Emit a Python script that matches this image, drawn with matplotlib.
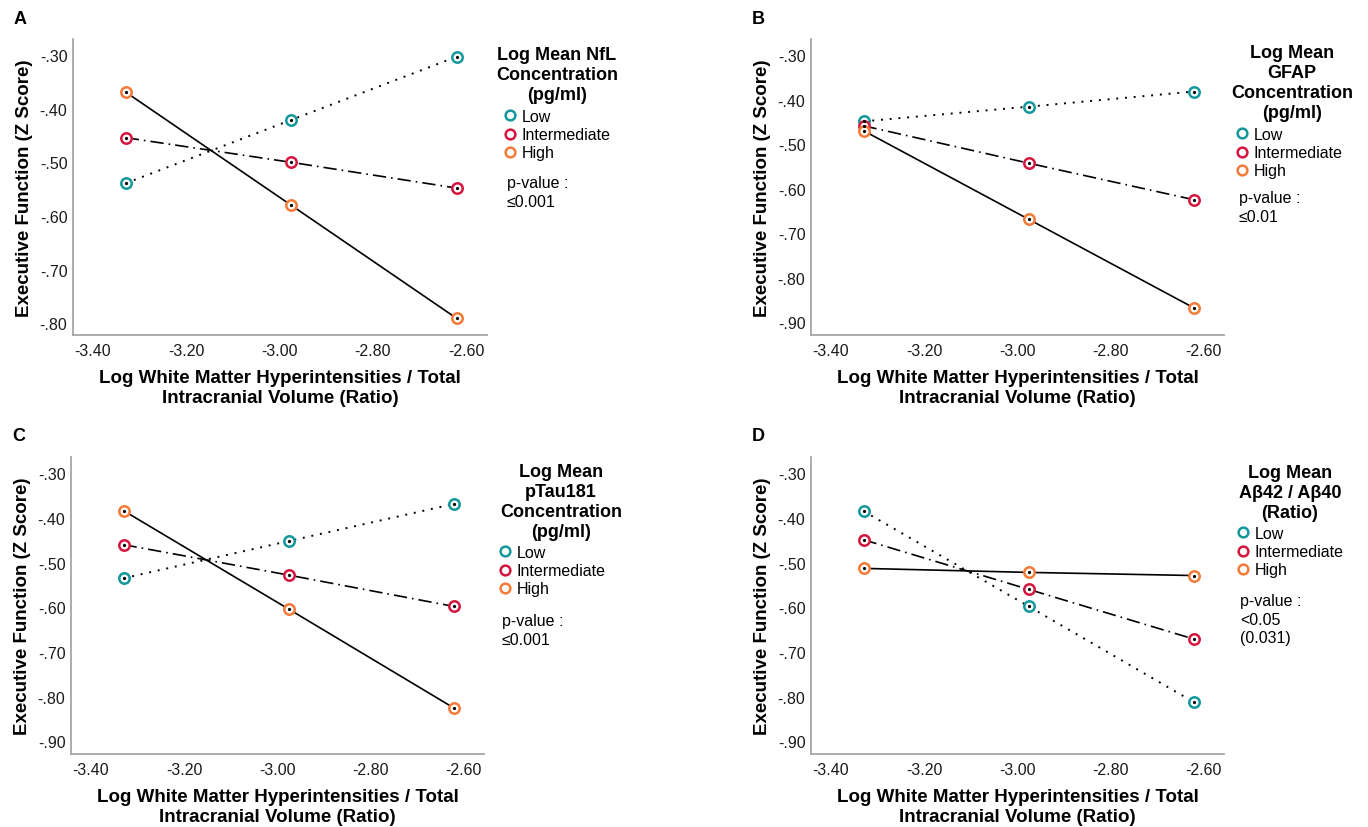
import matplotlib
matplotlib.use("Agg")
import matplotlib.pyplot as plt
from matplotlib.lines import Line2D

plt.rcParams['font.family'] = ['Liberation Sans', 'DejaVu Sans']

W, H = 1368, 828

# x positions of the three WMH groups (same in all panels)
wmh_x = [-3.33, -2.975, -2.62]
groups = ["Low", "Intermediate", "High"]

# executive function z scores
nfl_low = [-0.539, -0.421, -0.303]
nfl_mid = [-0.454, -0.500, -0.548]
nfl_high = [-0.369, -0.580, -0.791]

gfap_low = [-0.449, -0.416, -0.382]
gfap_mid = [-0.459, -0.543, -0.625]
gfap_high = [-0.470, -0.669, -0.868]

ptau_low = [-0.535, -0.452, -0.369]
ptau_mid = [-0.460, -0.528, -0.598]
ptau_high = [-0.384, -0.604, -0.825]

abeta_low = [-0.385, -0.598, -0.812]
abeta_mid = [-0.449, -0.560, -0.671]
abeta_high = [-0.513, -0.522, -0.529]

x_ticks = [-3.40, -3.20, -3.00, -2.80, -2.60]
x_ticklabels = ["-3.40", "-3.20", "-3.00", "-2.80", "-2.60"]
y_ticks_a = [-0.30, -0.40, -0.50, -0.60, -0.70, -0.80]
y_ticks = [-0.30, -0.40, -0.50, -0.60, -0.70, -0.80, -0.90]

colors = ['#13989b', '#d4163e', '#f47a38']
styles = [(0, (1, 3.5)), (0, (8, 3, 1, 3)), '-']
widths = [1.4, 1.2, 1.2]


def fx(px):
    return px / W


def fy(py):
    return 1 - py / H


fig = plt.figure(figsize=(W / 100, H / 100), dpi=100)


def make_panel(box, letter, series, ylim, yticks, leg_title, title_y, leg_x,
               title_cx, leg_y, pval, pval_y):
    left, top, right, bottom = box
    ax = fig.add_axes([fx(left), fy(bottom), (right - left) / W, (bottom - top) / H])
    for vals, c, ls, lw in zip(series, colors, styles, widths):
        ax.plot(wmh_x, vals, color='black', lw=lw, linestyle=ls, zorder=2)
        ax.plot(wmh_x, vals, linestyle='none', marker='o', ms=7.5, mew=1.8,
                mec=c, mfc='white', zorder=3)
        ax.plot(wmh_x, vals, linestyle='none', marker='o', ms=1.3,
                color='black', zorder=4)
    ax.set_xlim(-3.443, -2.555)
    ax.set_ylim(*ylim)
    ax.set_xticks(x_ticks)
    ax.set_xticklabels(x_ticklabels)
    ax.set_yticks(yticks)
    ax.set_yticklabels([("%.2f" % v).replace("0.", ".") for v in yticks])
    ax.tick_params(length=0, labelsize=11.5, labelcolor='#1a1a1a')
    ax.tick_params(axis='y', pad=4)
    ax.tick_params(axis='x', pad=6)
    for s in ['top', 'right']:
        ax.spines[s].set_visible(False)
    for s in ['left', 'bottom']:
        ax.spines[s].set_color('#a6a6a6')
        ax.spines[s].set_linewidth(1.3)
    ax.set_xlabel("Log White Matter Hyperintensities / Total\nIntracranial Volume (Ratio)",
                  fontsize=13.5, fontweight='bold', labelpad=8, linespacing=1.2)
    ax.set_ylabel("Executive Function (Z Score)", fontsize=13.5, fontweight='bold',
                  labelpad=5)
    fig.text(fx(left - 59), fy(top - 21), letter, fontsize=13, fontweight='bold',
             va='center', ha='left')

    fig.text(fx(title_cx), fy(title_y), leg_title, fontsize=13, fontweight='bold',
             ha='center', va='top', linespacing=1.22)
    handles = [Line2D([], [], linestyle='none', marker='o', ms=7, mew=1.8,
                      mec=c, mfc='white') for c in colors]
    ax.legend(handles, groups, loc='upper left',
              bbox_to_anchor=(fx(leg_x), fy(leg_y)), bbox_transform=fig.transFigure,
              frameon=False, borderpad=0, borderaxespad=0, handlelength=0.6,
              handletextpad=0.45, labelspacing=0.2, fontsize=11.5)
    fig.text(fx(leg_x + 2), fy(pval_y), pval, fontsize=11.5, ha='left', va='top',
             linespacing=1.3)
    return ax


make_panel((73, 40, 487, 336), "A", [nfl_low, nfl_mid, nfl_high], (-0.822, -0.270),
           y_ticks_a, "Log Mean NfL\nConcentration\n(pg/ml)", 47, 505, 557, 110,
           "p-value :\n≤0.001", 176)
make_panel((811, 40, 1224, 336), "B", [gfap_low, gfap_mid, gfap_high], (-0.929, -0.264),
           y_ticks, "Log Mean\nGFAP\nConcentration\n(pg/ml)", 45, 1237, 1292, 128,
           "p-value :\n≤0.01", 191)
make_panel((71, 458, 484, 755), "C", [ptau_low, ptau_mid, ptau_high], (-0.928, -0.264),
           y_ticks, "Log Mean\npTau181\nConcentration\n(pg/ml)", 464, 500, 561, 546,
           "p-value :\n≤0.001", 614)
make_panel((811, 458, 1224, 755), "D", [abeta_low, abeta_mid, abeta_high], (-0.928, -0.264),
           y_ticks, "Log Mean\nAβ42 / Aβ40\n(Ratio)", 465, 1238, 1290, 527,
           "p-value :\n<0.05\n(0.031)", 594)

fig.savefig("out.png", dpi=100)
